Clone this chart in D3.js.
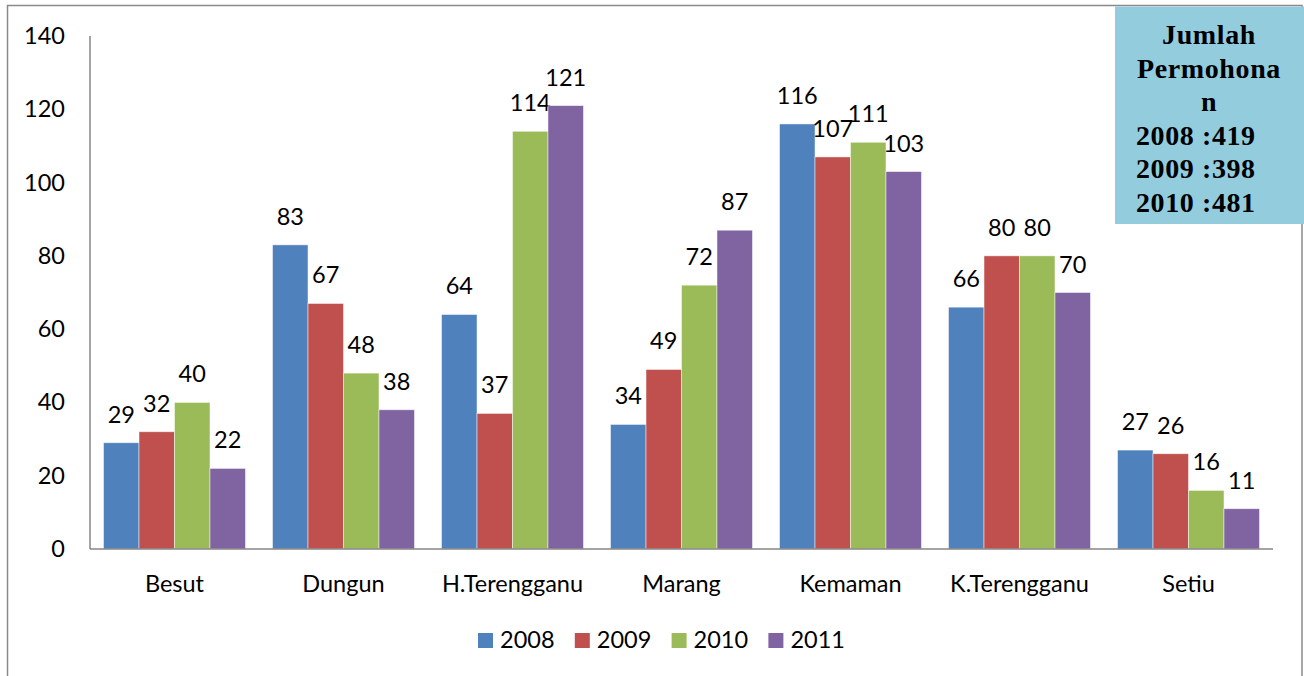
<html>

<head>
    <style>
        body { margin: 0; background: #fff; }
    </style>
</head>

<body>
    <svg id="chart"></svg>
</body>
<script src="https://cdnjs.cloudflare.com/ajax/libs/d3/7.8.5/d3.min.js"></script>
<script>
    const categories = ["Besut", "Dungun", "H.Terengganu", "Marang", "Kemaman", "K.Terengganu", "Setiu"];
    const years = ["2008", "2009", "2010", "2011"];
    const v2008 = [29, 83, 64, 34, 116, 66, 27];
    const v2009 = [32, 67, 37, 49, 107, 80, 26];
    const v2010 = [40, 48, 114, 72, 111, 80, 16];
    const v2011 = [22, 38, 121, 87, 103, 70, 11];
    const yTicks = [0, 20, 40, 60, 80, 100, 120, 140];
    const boxLines = ["Jumlah", "Permohona", "n", "2008 :419", "2009 :398", "2010 :481"];

    const colors = ["#4F81BD", "#C0504D", "#9BBB59", "#8064A2"];
    const series = [v2008, v2009, v2010, v2011];
    const font = "Lato, 'Open Sans', sans-serif";
    const fs = 23.5;

    const width = 1304,
        height = 676;
    const plot = { left: 90, right: 1273, top: 36, bottom: 549 };

    const svg = d3.select('#chart')
        .attr('width', width)
        .attr('height', height);

    // outer frame
    svg.append('rect')
        .attr('x', 7.5).attr('y', 5.5)
        .attr('width', 1294.5).attr('height', 700)
        .attr('fill', 'none')
        .attr('stroke', '#8a8a8a')
        .attr('stroke-width', 1.5);

    const x0 = d3.scaleBand()
        .domain(categories)
        .range([plot.left, plot.right])
        .paddingInner(0.16)
        .paddingOuter(0.08);

    const x1 = d3.scaleBand()
        .domain(years)
        .range([0, x0.bandwidth()]);

    const y = d3.scaleLinear()
        .domain([0, 140])
        .range([plot.bottom, plot.top]);

    // y tick labels
    svg.append('g')
        .selectAll('text')
        .data(yTicks)
        .enter().append('text')
        .attr('x', 65)
        .attr('y', d => y(d) + 8)
        .attr('text-anchor', 'end')
        .attr('font-family', font)
        .attr('font-size', fs)
        .attr('fill', '#000')
        .text(d => d);

    // bars
    const groups = svg.append('g')
        .selectAll('g')
        .data(series)
        .enter().append('g')
        .attr('fill', (d, i) => colors[i]);

    groups.each(function (vals, si) {
        const g = d3.select(this);
        g.selectAll('rect')
            .data(vals)
            .enter().append('rect')
            .attr('x', (d, ci) => x0(categories[ci]) + x1(years[si]))
            .attr('y', d => y(d))
            .attr('width', x1.bandwidth())
            .attr('height', d => y(0) - y(d))
            .attr('stroke', '#ffffff')
            .attr('stroke-opacity', 0.6)
            .attr('stroke-width', 0.8);

        g.selectAll('text')
            .data(vals)
            .enter().append('text')
            .attr('x', (d, ci) => x0(categories[ci]) + x1(years[si]) + x1.bandwidth() / 2)
            .attr('y', d => y(d) - 20)
            .attr('text-anchor', 'middle')
            .attr('font-family', font)
            .attr('font-size', fs)
            .attr('fill', '#000')
            .text(d => d);
    });

    // axes lines
    svg.append('line')
        .attr('x1', plot.left).attr('x2', plot.left)
        .attr('y1', plot.top).attr('y2', plot.bottom)
        .attr('stroke', '#868686').attr('stroke-width', 1.5);
    svg.append('line')
        .attr('x1', plot.left).attr('x2', plot.right)
        .attr('y1', plot.bottom).attr('y2', plot.bottom)
        .attr('stroke', '#868686').attr('stroke-width', 1.5);

    // category labels
    svg.append('g')
        .selectAll('text')
        .data(categories)
        .enter().append('text')
        .attr('x', d => x0(d) + x0.bandwidth() / 2)
        .attr('y', 592)
        .attr('text-anchor', 'middle')
        .attr('font-family', font)
        .attr('font-size', fs)
        .attr('fill', '#000')
        .text(d => d);

    // legend
    const legend = svg.append('g')
        .selectAll('g')
        .data(years)
        .enter().append('g')
        .attr('transform', (d, i) => `translate(${478 + i * 96.8},633)`);
    legend.append('rect')
        .attr('width', 15).attr('height', 15)
        .attr('fill', (d, i) => colors[i]);
    legend.append('text')
        .attr('x', 22).attr('y', 15)
        .attr('font-family', font)
        .attr('font-size', fs)
        .attr('fill', '#000')
        .text(d => d);

    // info box
    svg.append('rect')
        .attr('x', 1115).attr('y', 6.5)
        .attr('width', 189).attr('height', 217.5)
        .attr('fill', '#93CDDD');
    svg.append('g')
        .selectAll('text')
        .data(boxLines)
        .enter().append('text')
        .attr('x', (d, i) => i < 3 ? 1209 : 1136)
        .attr('y', (d, i) => 44 + i * 33.6)
        .attr('text-anchor', (d, i) => i < 3 ? 'middle' : 'start')
        .attr('font-family', "'Liberation Serif', 'Times New Roman', serif")
        .attr('font-weight', 'bold')
        .attr('font-size', 28)
        .attr('letter-spacing', 0.6)
        .attr('fill', '#000')
        .text(d => d);
</script>

</html>
